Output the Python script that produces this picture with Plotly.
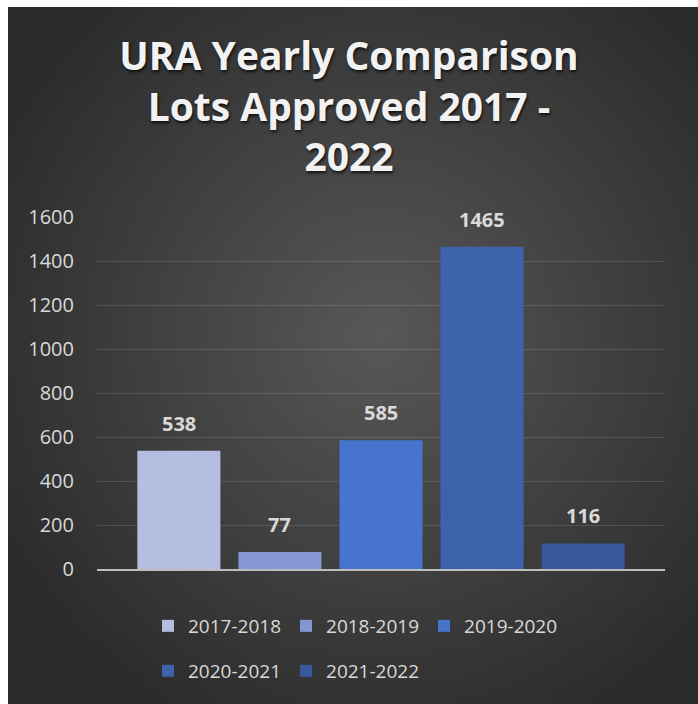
import base64
import struct
import zlib

import plotly.graph_objects as go

# ---------------- data ----------------
series = ["2017-2018", "2018-2019", "2019-2020", "2020-2021", "2021-2022"]
lots = [538, 77, 585, 1465, 116]
bar_colors = ["#b5bee1", "#8597d3", "#4774cd", "#3e63ad", "#37589b"]
y_tick_values = [0, 200, 400, 600, 800, 1000, 1200, 1400, 1600]
title_text = "URA Yearly Comparison<br>Lots Approved 2017 -<br>2022"

# ---------------- layout constants ----------------
W, H = 698, 704
ML, MR, MT, MB = 97, 33, 217, 135
PW, PH = W - ML - MR, H - MT - MB
DARK_X0, DARK_Y0 = 8, 7


def radial_png(w, h, cx, cy, inner, outer, reach):
    rows = []
    for j in range(h):
        row = bytearray(b"\x00")
        for i in range(w):
            dx = (i / (w - 1) - cx) * 2
            dy = (j / (h - 1) - cy) * 2
            d = min(1.0, (dx * dx + dy * dy) ** 0.5 / reach)
            v = int(round(inner + (outer - inner) * d))
            row += bytes((v, v, v))
        rows.append(bytes(row))
    raw = b"".join(rows)

    def chunk(t, data):
        return (struct.pack(">I", len(data)) + t + data
                + struct.pack(">I", zlib.crc32(t + data) & 0xFFFFFFFF))

    png = (b"\x89PNG\r\n\x1a\n"
           + chunk(b"IHDR", struct.pack(">IIBBBBB", w, h, 8, 2, 0, 0, 0))
           + chunk(b"IDAT", zlib.compress(raw, 9))
           + chunk(b"IEND", b""))
    return "data:image/png;base64," + base64.b64encode(png).decode()


bg_src = radial_png(96, 96, 0.54, 0.47, 0x58, 0x2a, 1.3)

fig = go.Figure()
for i, (name, val, col) in enumerate(zip(series, lots, bar_colors)):
    fig.add_trace(go.Bar(
        x=[name], y=[val], name=name, width=0.822,
        marker=dict(color=col, line=dict(width=0)),
        legend="legend" if i < 3 else "legend2",
        hoverinfo="skip",
    ))
    fig.add_annotation(
        x=name, y=val, text=str(val), showarrow=False,
        yanchor="bottom", yshift=12,
        font=dict(family="Open Sans", size=20, color="#d9d9d9", weight="bold"),
    )

legend_font = dict(family="Open Sans", size=19, color="#d9d9d9")

fig.update_layout(
    width=W, height=H, autosize=False,
    margin=dict(l=ML, r=MR, t=MT, b=MB, pad=0),
    paper_bgcolor="white",
    plot_bgcolor="rgba(0,0,0,0)",
    barmode="overlay",
    title=dict(
        text=title_text, xref="container", yref="container",
        x=0.5, xanchor="center", y=1 - 70 / H, yanchor="top",
        font=dict(family="Open Sans", size=39, color="#f2f2f2", weight="bold",
                  shadow="1px 2px 3px rgba(0,0,0,0.75)"),
    ),
    xaxis=dict(
        type="category", range=[-0.81, 4.81], showticklabels=False,
        showgrid=False, showline=True, linecolor="#bdbdbd", linewidth=2,
        ticks="", zeroline=False, fixedrange=True,
    ),
    yaxis=dict(
        range=[0, 1600], tickvals=y_tick_values, showgrid=True,
        gridcolor="rgba(255,255,255,0.12)", gridwidth=1, zeroline=False,
        showline=False, ticks="", ticklabelstandoff=22,
        tickfont=dict(family="Open Sans", size=20, color="#d9d9d9"),
        fixedrange=True,
    ),
    legend=dict(
        orientation="h", xref="container", yref="container",
        x=148 / W, y=(H - 607) / H, xanchor="left", yanchor="top",
        font=legend_font, bgcolor="rgba(0,0,0,0)", traceorder="normal",
    ),
    legend2=dict(
        orientation="h", xref="container", yref="container",
        x=148 / W, y=(H - 652) / H, xanchor="left", yanchor="top",
        font=legend_font, bgcolor="rgba(0,0,0,0)", traceorder="normal",
    ),
    images=[dict(
        source=bg_src, xref="paper", yref="paper",
        x=(DARK_X0 - ML) / PW, y=(H - MB - DARK_Y0) / PH,
        sizex=(W - DARK_X0) / PW, sizey=(H - DARK_Y0) / PH,
        xanchor="left", yanchor="top", sizing="stretch", layer="below",
    )],
)

fig.write_html("out.html", post_script="document.body.style.margin='0';",
               config={"displayModeBar": False})
